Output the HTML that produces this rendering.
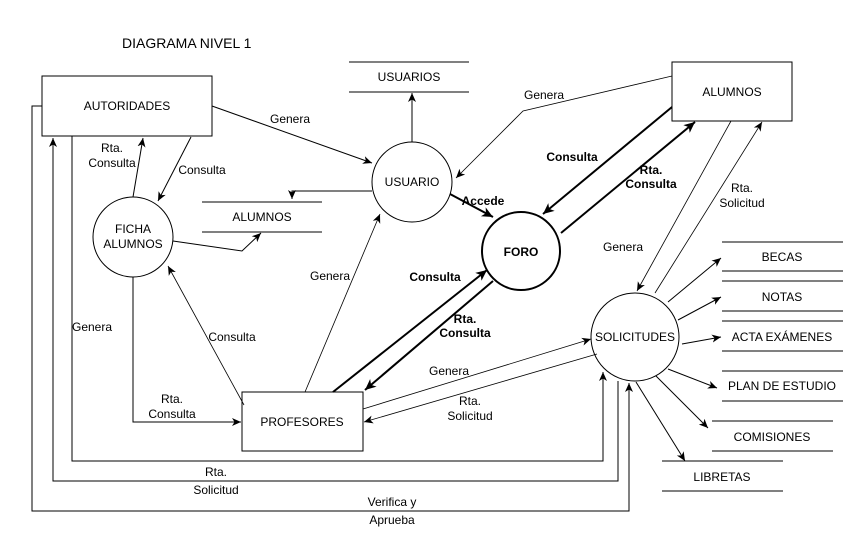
<!DOCTYPE html>
<html><head><meta charset="utf-8"><style>
html,body{margin:0;padding:0;background:#fff}
svg{display:block;font-family:"Liberation Sans",sans-serif;font-size:12px}
text{fill:#000}
</style></head><body>
<svg width="868" height="552" viewBox="0 0 868 552" xmlns="http://www.w3.org/2000/svg">
<defs>
<marker id="ar" markerWidth="10" markerHeight="10" refX="9" refY="5" orient="auto" markerUnits="userSpaceOnUse"><path d="M0,1 L9,5 L0,9 L2.5,5 Z" fill="#000"/></marker>
<marker id="arb" markerWidth="12" markerHeight="12" refX="11" refY="6" orient="auto" markerUnits="userSpaceOnUse"><path d="M0,1 L11,6 L0,11 L3,6 Z" fill="#000"/></marker>
</defs>
<text x="122" y="48" font-size="14">DIAGRAMA NIVEL 1</text>

<g fill="none" stroke="#000" stroke-width="1">
<!-- entities -->
<rect x="42" y="76" width="170" height="60"/>
<rect x="672" y="62" width="120" height="59"/>
<rect x="242" y="392" width="121" height="59"/>
<!-- processes -->
<circle cx="133" cy="237" r="40"/>
<circle cx="412" cy="182" r="40"/>
<circle cx="521" cy="251" r="39" stroke-width="2"/>
<circle cx="635" cy="337" r="44"/>
<!-- stores -->
<path d="M349 62H469M349 92H469"/>
<path d="M202 202H322M202 232H322"/>
<path d="M722 242H843M722 271H843"/>
<path d="M722 281H843M722 311H843"/>
<path d="M722 321H843M722 351H843"/>
<path d="M722 371H843M722 401H843"/>
<path d="M712 421H833M712 451H833"/>
<path d="M662 461H783M662 491H783"/>

<!-- flows -->
<polyline points="42,106 32,106 32,511 629,511 629,383" marker-end="url(#ar)"/>
<polyline points="618,381 618,481 53,481 53,138" marker-end="url(#ar)"/>
<polyline points="72,136 72,461 603,461 603,372" marker-end="url(#ar)"/>
<line x1="133" y1="197" x2="143" y2="138" marker-end="url(#ar)"/>
<line x1="191" y1="137" x2="158" y2="201" marker-end="url(#ar)"/>
<polyline points="173,241 242,251 261,233" marker-end="url(#ar)"/>
<polyline points="372,191 292,191 292,199" marker-end="url(#ar)"/>
<line x1="412" y1="142" x2="412" y2="93" marker-end="url(#ar)"/>
<line x1="212" y1="106" x2="372" y2="163" marker-end="url(#ar)"/>
<polyline points="672,76 523,111 456,178" stroke-width="0.8" marker-end="url(#ar)"/>
<line x1="731" y1="121" x2="637" y2="291" stroke-width="0.8" marker-end="url(#ar)"/>
<line x1="655" y1="293" x2="762" y2="122" stroke-width="0.8" marker-end="url(#ar)"/>
<line x1="305" y1="392" x2="380" y2="214" stroke-width="0.8" marker-end="url(#ar)"/>
<line x1="244" y1="405" x2="168" y2="266" stroke-width="0.8" marker-end="url(#ar)"/>
<polyline points="133,277 133,422 241,422" marker-end="url(#ar)"/>
<line x1="363" y1="409" x2="591" y2="339" stroke-width="0.8" marker-end="url(#ar)"/>
<line x1="597" y1="354" x2="364" y2="422" stroke-width="0.8" marker-end="url(#ar)"/>
<!-- thick foro flows -->
<line x1="450" y1="194" x2="493" y2="217" stroke-width="2" marker-end="url(#arb)"/>
<line x1="672" y1="107" x2="543" y2="214" stroke-width="2" marker-end="url(#arb)"/>
<line x1="561" y1="233" x2="695" y2="122" stroke-width="2" marker-end="url(#arb)"/>
<line x1="333" y1="392" x2="487" y2="270" stroke-width="2" marker-end="url(#arb)"/>
<line x1="493" y1="281" x2="365" y2="390" stroke-width="2" marker-end="url(#arb)"/>
<!-- solicitudes to stores -->
<line x1="668" y1="302" x2="721" y2="258" marker-end="url(#ar)"/>
<line x1="678" y1="320" x2="721" y2="297" marker-end="url(#ar)"/>
<line x1="682" y1="344" x2="721" y2="337" marker-end="url(#ar)"/>
<line x1="668" y1="369" x2="717" y2="388" marker-end="url(#ar)"/>
<line x1="656" y1="376" x2="708" y2="428" marker-end="url(#ar)"/>
<line x1="636" y1="382" x2="685" y2="461" marker-end="url(#ar)"/>
</g>

<g text-anchor="middle">
<text x="127" y="110">AUTORIDADES</text>
<text x="732" y="96">ALUMNOS</text>
<text x="302" y="426">PROFESORES</text>
<text x="133" y="233">FICHA</text>
<text x="133" y="248">ALUMNOS</text>
<text x="412" y="186">USUARIO</text>
<text x="521" y="256" font-weight="bold">FORO</text>
<text x="635" y="341">SOLICITUDES</text>
<text x="409" y="81">USUARIOS</text>
<text x="262" y="221">ALUMNOS</text>
<text x="782" y="261">BECAS</text>
<text x="782" y="301">NOTAS</text>
<text x="782" y="341">ACTA EXÁMENES</text>
<text x="782" y="390">PLAN DE ESTUDIO</text>
<text x="772" y="441">COMISIONES</text>
<text x="722" y="481">LIBRETAS</text>

<text x="290" y="123">Genera</text>
<text x="112" y="152">Rta.</text>
<text x="112" y="167">Consulta</text>
<text x="202" y="174">Consulta</text>
<text x="544" y="99">Genera</text>
<text x="572" y="161" font-weight="bold">Consulta</text>
<text x="651" y="174" font-weight="bold">Rta.</text>
<text x="651" y="188" font-weight="bold">Consulta</text>
<text x="483" y="205" font-weight="bold">Accede</text>
<text x="742" y="192">Rta.</text>
<text x="742" y="207">Solicitud</text>
<text x="623" y="251">Genera</text>
<text x="330" y="280">Genera</text>
<text x="435" y="281" font-weight="bold">Consulta</text>
<text x="465" y="323" font-weight="bold">Rta.</text>
<text x="465" y="337" font-weight="bold">Consulta</text>
<text x="92" y="331">Genera</text>
<text x="232" y="341">Consulta</text>
<text x="172" y="403">Rta.</text>
<text x="172" y="418">Consulta</text>
<text x="449" y="375">Genera</text>
<text x="470" y="405">Rta.</text>
<text x="470" y="420">Solicitud</text>
<text x="216" y="476">Rta.</text>
<text x="216" y="494">Solicitud</text>
<text x="392" y="506">Verifica y</text>
<text x="392" y="524">Aprueba</text>
</g>
</svg>
</body></html>
